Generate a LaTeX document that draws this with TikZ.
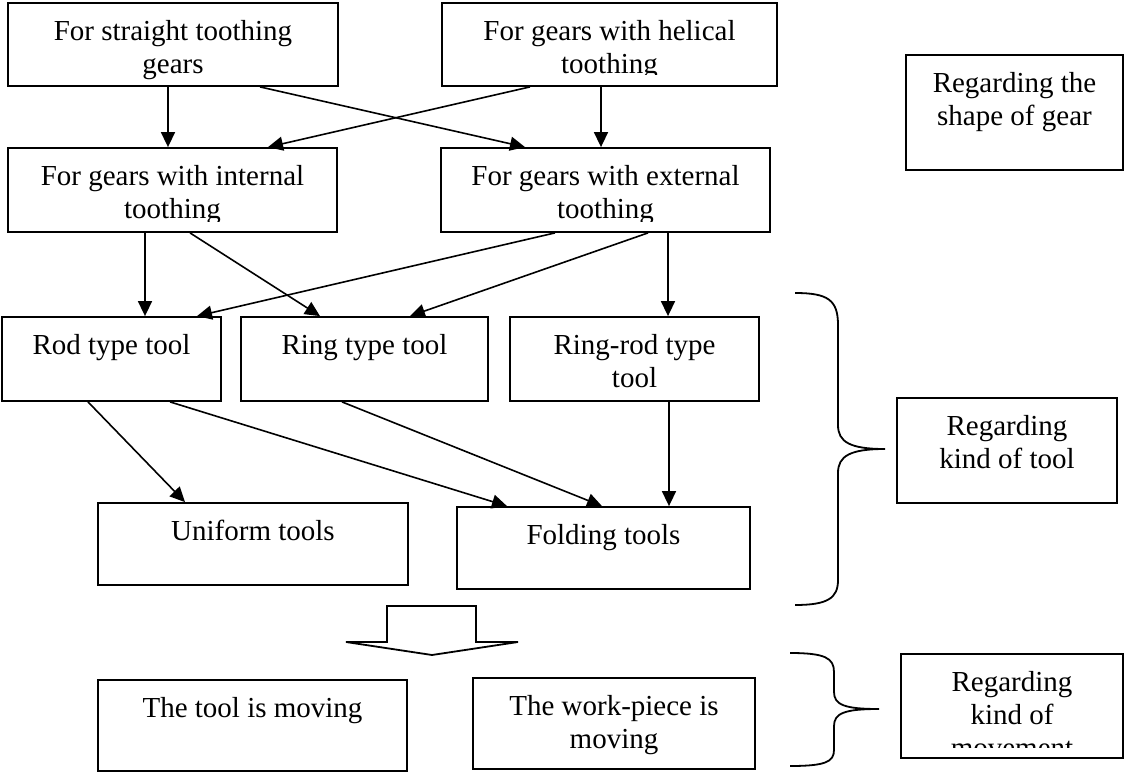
\documentclass[tikz,border=0pt]{standalone}
\usepackage{fontspec}
\setmainfont{Liberation Serif}
\usetikzlibrary{arrows.meta}

\tikzset{
  box/.style={draw, line width=1.8pt, rectangle, inner sep=0pt},
  txt/.style={font=\fontsize{29}{33}\selectfont, align=center, inner sep=0pt, anchor=north},
  link/.style={line width=1.6pt, -{Triangle[length=15pt,width=14pt]}}
}

% text of a box, cut off #2 above the lower edge
\newcommand{\boxtext}[3]{%
  \begin{scope}
    \clip (#1.south west) ++(0,-#2) rectangle (#1.north east);
    \node[txt] (#1-txt) at ([yshift=-18pt]#1.north) {#3};
  \end{scope}}

\begin{document}
\begin{tikzpicture}[x=1pt, y=-1pt]
	\useasboundingbox (0,0) rectangle (1125,773);

	% shape of gear
	\node[box, minimum width=330, minimum height=83] (straight) at (173,44.5) {};
	\node[box, minimum width=335, minimum height=83] (helical) at (609.5,44.5) {};
	\node[box, minimum width=329, minimum height=84] (internal) at (172.5,190) {};
	\node[box, minimum width=329, minimum height=84] (external) at (605.5,190) {};
	\boxtext{straight}{0}{For straight toothing\\gears}
	\boxtext{helical}{12}{For gears with helical\\toothing}
	\boxtext{internal}{11}{For gears with internal\\toothing}
	\boxtext{external}{11}{For gears with external\\toothing}

	% kind of tool
	\node[box, minimum width=219, minimum height=84] (rod) at (111.5,359) {};
	\node[box, minimum width=247, minimum height=84] (ring) at (364.5,359) {};
	\node[box, minimum width=249, minimum height=84] (ringrod) at (634.5,359) {};
	\node[box, minimum width=310, minimum height=82] (uniform) at (253,544) {};
	\node[box, minimum width=293, minimum height=82] (folding) at (603.5,548) {};
	\boxtext{rod}{0}{Rod type tool}
	\boxtext{ring}{0}{Ring type tool}
	\boxtext{ringrod}{0}{Ring-rod type\\tool}
	\boxtext{uniform}{0}{Uniform tools}
	\boxtext{folding}{0}{Folding tools}

	% kind of movement
	\node[box, minimum width=309, minimum height=91] (toolmove) at (252.5,725.5) {};
	\node[box, minimum width=282, minimum height=91] (workmove) at (614,723.5) {};
	\boxtext{toolmove}{0}{The tool is moving}
	\boxtext{workmove}{0}{The work-piece is\\moving}

	% groups on the right
	\node[box, minimum width=217, minimum height=115] (gearshape) at (1014.5,112.5) {};
	\node[box, minimum width=220, minimum height=105] (kindtool) at (1007,450.5) {};
	\node[box, minimum width=222, minimum height=104] (kindmove) at (1012,706) {};
	\boxtext{gearshape}{0}{Regarding the\\shape of gear}
	\boxtext{kindtool}{0}{Regarding\\kind of tool}
	\boxtext{kindmove}{11}{Regarding\\kind of\\movement}

	\draw[link] ([xshift=-5]straight.south) -- ([xshift=-4.5]internal.north);
	\draw[link] ([xshift=87]straight.south) -- ([xshift=-80.5]external.north);
	\draw[link] ([xshift=-79.5]helical.south) -- ([xshift=95.5]internal.north);
	\draw[link] ([xshift=-8.5]helical.south) -- ([xshift=-4.5]external.north);

	\draw[link] ([xshift=-27.5]internal.south) -- ([xshift=33.5]rod.north);
	\draw[link] ([xshift=17.5]internal.south) -- ([xshift=-44.5]ring.north);
	\draw[link] ([xshift=-50.5]external.south) -- ([xshift=85.5]rod.north);
	\draw[link] ([xshift=42.5]external.south) -- ([xshift=45.5]ring.north);
	\draw[link] ([xshift=62.5]external.south) -- ([xshift=33.5]ringrod.north);

	\draw[link] ([xshift=-23.5]rod.south) -- ([xshift=-68]uniform.north);
	\draw[link] ([xshift=58.5]rod.south) -- ([xshift=-96.5]folding.north);
	\draw[link] ([xshift=-22.5]ring.south) -- ([xshift=-1.5]folding.north);
	\draw[link] ([xshift=34.5]ringrod.south) -- ([xshift=65.5]folding.north);

	% braces and the block arrow
	\draw[line width=1.8pt] (795,293) .. controls (828,293) and (838,300) .. (838,325) -- (838,425)
		.. controls (838,442) and (850,449) .. (885,449) .. controls (850,449) and (838,456) .. (838,473)
		-- (838,580) .. controls (838,598) and (828,605) .. (795,605);
	\draw[line width=1.8pt] (790,653) .. controls (825,653) and (834,658) .. (834,672) -- (834,692)
		.. controls (834,705) and (845,709) .. (879,709) .. controls (845,709) and (834,713) .. (834,726)
		-- (834,750) .. controls (834,762) and (825,766) .. (790,766);
	\draw[line width=1.8pt] (387,606) -- (476,606) -- (476,642) -- (518,642) -- (432,655)
		-- (346,642) -- (387,642) -- cycle;
\end{tikzpicture}
\end{document}
